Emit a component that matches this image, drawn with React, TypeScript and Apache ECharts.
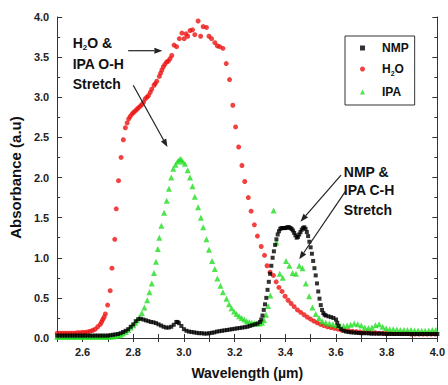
import React, { useEffect, useRef } from 'react';
import * as echarts from 'echarts';

const nmpData: [number, number][] = [
  [2.50, 0.03], [2.51, 0.03], [2.52, 0.03], [2.53, 0.03], [2.54, 0.03], [2.55, 0.03], [2.56, 0.03], [2.57, 0.03],
  [2.58, 0.03], [2.59, 0.03], [2.60, 0.03], [2.61, 0.03], [2.62, 0.03], [2.63, 0.03], [2.64, 0.03], [2.65, 0.03],
  [2.66, 0.03], [2.67, 0.03], [2.68, 0.03], [2.69, 0.03], [2.70, 0.03], [2.71, 0.035], [2.72, 0.04], [2.73, 0.045],
  [2.74, 0.05], [2.75, 0.06], [2.76, 0.075], [2.77, 0.09], [2.78, 0.11], [2.79, 0.14], [2.80, 0.17], [2.81, 0.21],
  [2.82, 0.235], [2.83, 0.24], [2.84, 0.23], [2.85, 0.22], [2.86, 0.21], [2.87, 0.2], [2.88, 0.195], [2.89, 0.185],
  [2.90, 0.17], [2.91, 0.155], [2.92, 0.14], [2.93, 0.13], [2.94, 0.13], [2.95, 0.14], [2.96, 0.165], [2.97, 0.2],
  [2.975, 0.2], [2.98, 0.185], [2.99, 0.15], [3.00, 0.11], [3.01, 0.09], [3.02, 0.08], [3.03, 0.075], [3.04, 0.07],
  [3.05, 0.065], [3.06, 0.06], [3.07, 0.06], [3.08, 0.055], [3.09, 0.055], [3.10, 0.06], [3.11, 0.065], [3.12, 0.07],
  [3.13, 0.08], [3.14, 0.085], [3.15, 0.09], [3.16, 0.095], [3.17, 0.1], [3.18, 0.105], [3.19, 0.11], [3.20, 0.115],
  [3.21, 0.12], [3.22, 0.125], [3.23, 0.13], [3.24, 0.135], [3.25, 0.14], [3.26, 0.15], [3.27, 0.16], [3.28, 0.17],
  [3.29, 0.18], [3.30, 0.2], [3.305, 0.23], [3.31, 0.28], [3.315, 0.35], [3.32, 0.42], [3.325, 0.5], [3.33, 0.6],
  [3.335, 0.7], [3.34, 0.8], [3.345, 0.9], [3.35, 1.0], [3.355, 1.08], [3.36, 1.16], [3.365, 1.23], [3.37, 1.29],
  [3.375, 1.33], [3.38, 1.36], [3.385, 1.37], [3.39, 1.37], [3.395, 1.37], [3.40, 1.37], [3.405, 1.375], [3.41, 1.38],
  [3.415, 1.38], [3.42, 1.37], [3.425, 1.36], [3.43, 1.34], [3.435, 1.31], [3.44, 1.28], [3.445, 1.25], [3.45, 1.26],
  [3.455, 1.29], [3.46, 1.32], [3.465, 1.35], [3.47, 1.37], [3.475, 1.38], [3.48, 1.36], [3.485, 1.32], [3.49, 1.27],
  [3.495, 1.2], [3.50, 1.13], [3.505, 1.05], [3.51, 0.96], [3.515, 0.87], [3.52, 0.78], [3.525, 0.68], [3.53, 0.58],
  [3.535, 0.49], [3.54, 0.41], [3.545, 0.35], [3.55, 0.31], [3.555, 0.29], [3.56, 0.28], [3.57, 0.27], [3.58, 0.26],
  [3.59, 0.25], [3.60, 0.23], [3.605, 0.19], [3.61, 0.15], [3.62, 0.11], [3.63, 0.09], [3.64, 0.08], [3.65, 0.075],
  [3.66, 0.07], [3.67, 0.068], [3.68, 0.065], [3.69, 0.062], [3.70, 0.06], [3.71, 0.06], [3.72, 0.06], [3.73, 0.058],
  [3.74, 0.055], [3.75, 0.055], [3.76, 0.055], [3.77, 0.055], [3.78, 0.055], [3.79, 0.052], [3.80, 0.05], [3.81, 0.05],
  [3.82, 0.05], [3.83, 0.05], [3.84, 0.05], [3.85, 0.05], [3.86, 0.05], [3.87, 0.05], [3.88, 0.05], [3.89, 0.05],
  [3.90, 0.05], [3.91, 0.05], [3.92, 0.05], [3.93, 0.05], [3.94, 0.05], [3.95, 0.05], [3.96, 0.05], [3.97, 0.05],
  [3.98, 0.05], [3.99, 0.05], [4.00, 0.05],
];

const h2oData: [number, number][] = [
  [2.50, 0.06], [2.51, 0.06], [2.52, 0.06], [2.53, 0.06], [2.54, 0.06], [2.55, 0.06], [2.56, 0.06], [2.57, 0.06],
  [2.58, 0.065], [2.59, 0.065], [2.60, 0.07], [2.61, 0.07], [2.62, 0.075], [2.63, 0.085], [2.64, 0.095], [2.65, 0.11],
  [2.66, 0.14], [2.67, 0.17], [2.675, 0.2], [2.68, 0.23], [2.685, 0.26], [2.690, 0.30], [2.699, 0.41], [2.709, 0.59],
  [2.716, 0.87], [2.727, 1.23], [2.733, 1.61], [2.742, 1.96], [2.752, 2.25], [2.761, 2.47], [2.769, 2.62], [2.776, 2.68],
  [2.782, 2.73], [2.788, 2.76], [2.795, 2.79], [2.801, 2.81], [2.808, 2.83], [2.815, 2.85], [2.821, 2.87], [2.828, 2.89],
  [2.834, 2.91], [2.841, 2.94], [2.847, 2.98], [2.854, 3.0], [2.86, 3.02], [2.867, 3.06], [2.873, 3.10], [2.882, 3.15],
  [2.887, 3.17], [2.893, 3.20], [2.903, 3.26], [2.908, 3.30], [2.913, 3.34], [2.919, 3.38], [2.925, 3.41], [2.932, 3.44],
  [2.938, 3.45], [2.945, 3.48], [2.952, 3.52], [2.961, 3.65], [2.971, 3.63], [2.982, 3.73], [2.992, 3.80], [3.001, 3.73],
  [3.008, 3.79], [3.015, 3.76], [3.024, 3.83], [3.034, 3.84], [3.043, 3.78], [3.056, 3.95], [3.066, 3.76], [3.076, 3.88],
  [3.089, 3.87], [3.099, 3.76], [3.109, 3.73], [3.122, 3.68], [3.132, 3.64], [3.141, 3.63], [3.154, 3.61], [3.167, 3.42],
  [3.180, 3.22], [3.193, 2.90], [3.204, 2.63], [3.216, 2.38], [3.229, 2.15], [3.240, 1.95], [3.254, 1.75], [3.265, 1.58],
  [3.278, 1.41], [3.290, 1.27], [3.305, 1.14], [3.318, 1.03], [3.328, 0.90], [3.340, 0.82], [3.353, 0.78], [3.364, 0.70],
  [3.375, 0.63], [3.387, 0.58], [3.399, 0.52], [3.411, 0.47], [3.423, 0.43], [3.435, 0.39], [3.448, 0.35], [3.461, 0.32],
  [3.474, 0.29], [3.487, 0.26], [3.500, 0.235], [3.513, 0.21], [3.526, 0.19], [3.539, 0.17], [3.552, 0.155], [3.566, 0.14],
  [3.580, 0.13], [3.594, 0.12], [3.608, 0.11], [3.622, 0.10], [3.636, 0.095], [3.650, 0.09], [3.665, 0.085], [3.680, 0.08],
  [3.695, 0.075], [3.710, 0.07], [3.725, 0.07], [3.740, 0.065], [3.755, 0.065], [3.770, 0.06], [3.785, 0.06], [3.800, 0.06],
  [3.816, 0.06], [3.832, 0.055], [3.848, 0.055], [3.864, 0.055], [3.880, 0.055], [3.896, 0.05], [3.912, 0.05], [3.928, 0.05],
  [3.944, 0.05], [3.960, 0.05], [3.976, 0.05], [3.992, 0.05],
];

const ipaData: [number, number][] = [
  [2.50, 0.015], [2.51, 0.015], [2.52, 0.015], [2.53, 0.015], [2.54, 0.015], [2.55, 0.015], [2.56, 0.015], [2.57, 0.015],
  [2.58, 0.015], [2.59, 0.015], [2.60, 0.015], [2.61, 0.015], [2.62, 0.015], [2.63, 0.015], [2.64, 0.015], [2.65, 0.015],
  [2.66, 0.015], [2.67, 0.015], [2.68, 0.015], [2.69, 0.015], [2.70, 0.017], [2.71, 0.02], [2.72, 0.02], [2.73, 0.025],
  [2.74, 0.03], [2.75, 0.04], [2.76, 0.055], [2.77, 0.075], [2.78, 0.10], [2.79, 0.13], [2.80, 0.16], [2.808, 0.19],
  [2.815, 0.22], [2.824, 0.26], [2.834, 0.31], [2.844, 0.38], [2.855, 0.47], [2.864, 0.57], [2.873, 0.68], [2.882, 0.81],
  [2.890, 0.95], [2.897, 1.11], [2.903, 1.25], [2.911, 1.40], [2.922, 1.56], [2.932, 1.71], [2.941, 1.86], [2.950, 2.00],
  [2.958, 2.11], [2.967, 2.16], [2.975, 2.20], [2.982, 2.22], [2.988, 2.23], [2.995, 2.20], [3.004, 2.17], [3.015, 2.09],
  [3.024, 2.00], [3.034, 1.89], [3.043, 1.76], [3.056, 1.63], [3.067, 1.50], [3.076, 1.38], [3.089, 1.23], [3.099, 1.10],
  [3.111, 0.96], [3.122, 0.86], [3.132, 0.74], [3.144, 0.65], [3.154, 0.57], [3.168, 0.49], [3.178, 0.42], [3.188, 0.37],
  [3.198, 0.33], [3.208, 0.30], [3.218, 0.27], [3.228, 0.25], [3.238, 0.23], [3.248, 0.21], [3.258, 0.20], [3.268, 0.19],
  [3.278, 0.185], [3.288, 0.18], [3.298, 0.18], [3.308, 0.19], [3.316, 0.22], [3.324, 0.29], [3.332, 0.40], [3.341, 0.53],
  [3.354, 1.59], [3.365, 1.19], [3.378, 0.80], [3.390, 0.75], [3.403, 0.96], [3.416, 0.90], [3.429, 0.81], [3.442, 0.80],
  [3.455, 0.90], [3.468, 0.87], [3.481, 0.68], [3.494, 0.52], [3.507, 0.38], [3.520, 0.30], [3.533, 0.25], [3.546, 0.21],
  [3.560, 0.19], [3.574, 0.18], [3.588, 0.17], [3.602, 0.16], [3.616, 0.15], [3.630, 0.15], [3.644, 0.155], [3.658, 0.165],
  [3.672, 0.18], [3.686, 0.17], [3.700, 0.155], [3.714, 0.13], [3.728, 0.125], [3.742, 0.13], [3.756, 0.16], [3.770, 0.17],
  [3.784, 0.14], [3.798, 0.12], [3.812, 0.11], [3.826, 0.11], [3.840, 0.105], [3.854, 0.10], [3.868, 0.10], [3.882, 0.10],
  [3.896, 0.10], [3.910, 0.095], [3.924, 0.095], [3.938, 0.09], [3.952, 0.09], [3.966, 0.095], [3.980, 0.10], [3.994, 0.10],
];

const seriesNames = ['NMP', 'H2O', 'IPA'];
const seriesColors = ['#000000', '#ee1111', '#22dd22'];
const seriesSymbols = ['rect', 'circle', 'triangle'];

const FONT = '"Liberation Sans", Arial, sans-serif';

// annotation texts (rich markup) anchored in data coordinates
const annotationTexts: { text: string; at: [number, number] }[] = [
  { text: '{b|H}{s|2}{b|O &}', at: [2.561, 3.68] },
  { text: '{b|IPA O-H}', at: [2.561, 3.42] },
  { text: '{b|Stretch}', at: [2.561, 3.16] },
  { text: '{b|NMP &}', at: [3.631, 2.07] },
  { text: '{b|IPA C-H}', at: [3.631, 1.84] },
  { text: '{b|Stretch}', at: [3.631, 1.60] },
];

const annotationArrows: { from: [number, number]; to: [number, number] }[] = [
  { from: [2.78, 3.58], to: [2.915, 3.58] },
  { from: [2.80, 3.15], to: [2.935, 2.38] },
  { from: [3.62, 2.03], to: [3.46, 1.45] },
  { from: [3.64, 1.84], to: [3.455, 0.98] },
];

const richStyles = {
  b: { fontFamily: FONT, fontWeight: 'bold', fontSize: 14, color: '#111', lineHeight: 18 },
  s: { fontFamily: FONT, fontWeight: 'bold', fontSize: 8, color: '#111', lineHeight: 9, verticalAlign: 'bottom' },
};

const legendRich = {
  b: { fontFamily: FONT, fontWeight: 'bold', fontSize: 12, color: '#111', lineHeight: 16 },
  s: { fontFamily: FONT, fontWeight: 'bold', fontSize: 7, color: '#111', lineHeight: 8, verticalAlign: 'bottom' },
};

export default function App() {
  const ref = useRef<HTMLDivElement>(null);

  useEffect(() => {
    if (!ref.current) return;
    const chart = echarts.init(ref.current, null, { renderer: 'svg' });
    const axisLine = { show: true, lineStyle: { color: '#333', width: 1 } };
    const tickStyle = { color: '#333', width: 1 };
    const labelStyle = { fontFamily: FONT, fontWeight: 'bold' as const, fontSize: 11, color: '#222' };

    const option: any = {
      animation: false,
      backgroundColor: '#fff',
      grid: { left: 55, right: 9, top: 17, bottom: 44, containLabel: false },
      legend: {
        orient: 'vertical',
        left: 345,
        top: 36,
        padding: [6, 6, 7, 15],
        itemGap: 9,
        itemWidth: 5,
        itemHeight: 5,
        borderColor: '#333',
        borderWidth: 1,
        backgroundColor: '#fff',
        data: seriesNames.map((n, i) => ({ name: n, icon: seriesSymbols[i] })),
        formatter: (name: string) => (name === 'H2O' ? '{b|H}{s|2}{b|O}' : '{b|' + name + '}'),
        textStyle: { padding: [0, 0, 0, 12], rich: legendRich },
      },
      xAxis: [
        {
          type: 'value',
          position: 'bottom',
          min: 2.5,
          max: 4.0,
          interval: 0.1,
          axisLine,
          axisTick: { show: true, inside: true, length: 4, lineStyle: tickStyle },
          axisLabel: {
            ...labelStyle,
            margin: 8,
            formatter: (v: number) => (Math.round(v * 10) % 2 === 0 ? v.toFixed(1) : ''),
          },
          splitLine: { show: false },
          name: 'Wavelength (µm)',
          nameLocation: 'middle',
          nameGap: 28,
          nameTextStyle: { fontFamily: FONT, fontWeight: 'bold', fontSize: 14, color: '#111' },
        },
        {
          type: 'value',
          position: 'top',
          min: 2.5,
          max: 4.0,
          interval: 0.1,
          axisLine,
          axisTick: { show: true, inside: true, length: 4, lineStyle: tickStyle },
          axisLabel: { show: false },
          splitLine: { show: false },
        },
      ],
      yAxis: [
        {
          type: 'value',
          position: 'left',
          min: 0,
          max: 4,
          interval: 0.5,
          axisLine,
          axisTick: { show: true, inside: true, length: 5, lineStyle: tickStyle },
          minorTick: { show: true, splitNumber: 2, length: 3, lineStyle: tickStyle },
          axisLabel: { ...labelStyle, margin: 8, formatter: (v: number) => v.toFixed(1) },
          splitLine: { show: false },
          minorSplitLine: { show: false },
          name: 'Absorbance (a.u)',
          nameLocation: 'middle',
          nameGap: 27,
          nameTextStyle: { fontFamily: FONT, fontWeight: 'bold', fontSize: 15, color: '#111' },
        },
        {
          type: 'value',
          position: 'right',
          min: 0,
          max: 4,
          interval: 0.5,
          axisLine,
          axisTick: { show: true, inside: true, length: 5, lineStyle: tickStyle },
          minorTick: { show: true, splitNumber: 2, length: 3, lineStyle: tickStyle },
          axisLabel: { show: false },
          splitLine: { show: false },
          minorSplitLine: { show: false },
        },
      ],
      series: [
        {
          name: 'NMP',
          type: 'scatter',
          data: nmpData,
          symbol: 'rect',
          symbolSize: 4,
          itemStyle: { color: seriesColors[0] },
          z: 3,
        },
        {
          name: 'H2O',
          type: 'scatter',
          data: h2oData,
          symbol: 'circle',
          symbolSize: 5,
          itemStyle: { color: seriesColors[1] },
          z: 2,
        },
        {
          name: 'IPA',
          type: 'scatter',
          data: ipaData,
          symbol: 'triangle',
          symbolSize: 6,
          itemStyle: { color: seriesColors[2] },
          z: 2,
        },
      ],
    };
    chart.setOption(option);

    const px = (p: [number, number]) =>
      chart.convertToPixel({ xAxisIndex: 0, yAxisIndex: 0 }, p) as number[];
    const graphics: any[] = [];
    annotationTexts.forEach((t) => {
      const [x, y] = px(t.at);
      graphics.push({
        type: 'text',
        x,
        y,
        z: 10,
        style: { text: t.text, rich: richStyles, textAlign: 'left', textVerticalAlign: 'middle', fill: '#111' },
      });
    });
    annotationArrows.forEach((a) => {
      const [x1, y1] = px(a.from);
      const [x2, y2] = px(a.to);
      const dx = x2 - x1;
      const dy = y2 - y1;
      const len = Math.hypot(dx, dy);
      const ux = dx / len;
      const uy = dy / len;
      const hl = 8;
      const hw = 3;
      const bx = x2 - ux * hl;
      const by = y2 - uy * hl;
      graphics.push({
        type: 'line',
        z: 10,
        shape: { x1, y1, x2: bx, y2: by },
        style: { stroke: '#222', lineWidth: 1.2 },
      });
      graphics.push({
        type: 'polygon',
        z: 10,
        shape: { points: [[x2, y2], [bx - uy * hw, by + ux * hw], [bx + uy * hw, by - ux * hw]] },
        style: { fill: '#222' },
      });
    });
    chart.setOption({ graphic: graphics });

    return () => chart.dispose();
  }, []);

  return (
    <div
      ref={ref}
      style={{ position: 'fixed', left: 0, top: 0, width: 448, height: 385, background: '#fff' }}
    />
  );
}
